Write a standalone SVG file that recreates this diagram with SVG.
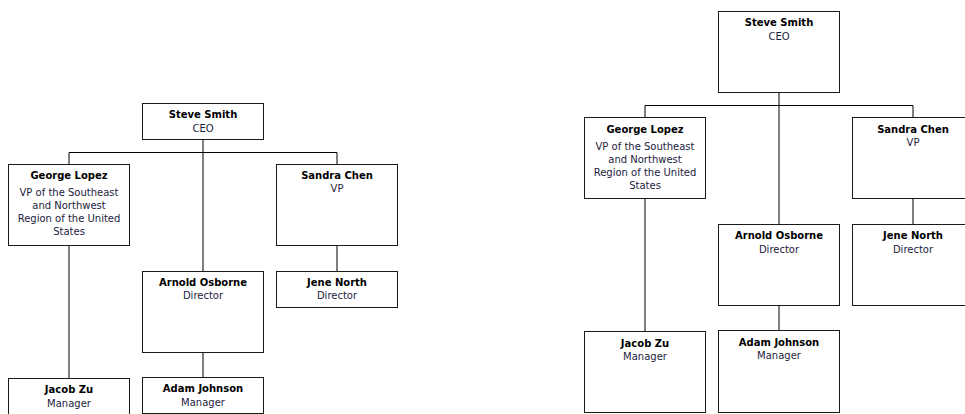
<svg xmlns="http://www.w3.org/2000/svg" width="965" height="414" viewBox="0 0 965 414">
<style>
.box{fill:#fff;stroke:#1a1a1a;stroke-width:1}
.ln{fill:none;stroke:#000;stroke-width:1}
text{font-family:"DejaVu Sans","Verdana",sans-serif;font-size:10px;text-anchor:middle}
.n{font-weight:bold;fill:#000}
.t{fill:#1c1c40}
</style>
<rect width="965" height="414" fill="#fff"/>
<g id="connectors">
<path class="ln" d="M203,139.5V271.5M69,152.5H337M69,152.5V164.5M337,152.5V164.5M337,245.5V271.5M69,245.5V378.5M203,352.5V377.5"/>
<path class="ln" d="M779,92.5V224.5M645,105.5H913M645,105.5V117.5M913,105.5V117.5M913,198.5V224.5M645,198.5V331.5M779,305.5V330.5"/>
</g>
<g id="left-steve"><rect class="box" x="142.5" y="103.5" width="121" height="36"/><text class="n" x="203" y="118">Steve Smith</text><text class="t" x="203" y="131.5">CEO</text></g>
<g id="left-george"><rect class="box" x="8.5" y="164.5" width="121" height="81"/><text class="n" x="69" y="179">George Lopez</text><text class="t" x="69" y="196">VP of the Southeast</text><text class="t" x="69" y="209">and Northwest</text><text class="t" x="69" y="222">Region of the United</text><text class="t" x="69" y="235">States</text></g>
<g id="left-sandra"><rect class="box" x="276.5" y="164.5" width="121" height="81"/><text class="n" x="337" y="179">Sandra Chen</text><text class="t" x="337" y="192">VP</text></g>
<g id="left-arnold"><rect class="box" x="142.5" y="271.5" width="121" height="81"/><text class="n" x="203" y="285.5">Arnold Osborne</text><text class="t" x="203" y="299">Director</text></g>
<g id="left-jene"><rect class="box" x="276.5" y="271.5" width="121" height="36"/><text class="n" x="337" y="285.5">Jene North</text><text class="t" x="337" y="299">Director</text></g>
<g id="left-jacob"><rect class="box" x="8.5" y="378.5" width="121" height="81"/><text class="n" x="69" y="392.5">Jacob Zu</text><text class="t" x="69" y="406.5">Manager</text></g>
<g id="left-adam"><rect class="box" x="142.5" y="377.5" width="121" height="36"/><text class="n" x="203" y="391.5">Adam Johnson</text><text class="t" x="203" y="405.5">Manager</text></g>
<g id="right-steve"><rect class="box" x="718.5" y="11.5" width="121" height="81"/><text class="n" x="779" y="26">Steve Smith</text><text class="t" x="779" y="39.5">CEO</text></g>
<g id="right-george"><rect class="box" x="584.5" y="117.5" width="121" height="81"/><text class="n" x="645" y="132.5">George Lopez</text><text class="t" x="645" y="149.5">VP of the Southeast</text><text class="t" x="645" y="162.5">and Northwest</text><text class="t" x="645" y="175.5">Region of the United</text><text class="t" x="645" y="188.5">States</text></g>
<g id="right-sandra"><rect class="box" x="852.5" y="117.5" width="121" height="81"/><text class="n" x="913" y="132.5">Sandra Chen</text><text class="t" x="913" y="145.5">VP</text></g>
<g id="right-arnold"><rect class="box" x="718.5" y="224.5" width="121" height="81"/><text class="n" x="779" y="239">Arnold Osborne</text><text class="t" x="779" y="252.5">Director</text></g>
<g id="right-jene"><rect class="box" x="852.5" y="224.5" width="121" height="81"/><text class="n" x="913" y="239">Jene North</text><text class="t" x="913" y="252.5">Director</text></g>
<g id="right-jacob"><rect class="box" x="584.5" y="331.5" width="121" height="81"/><text class="n" x="645" y="346.5">Jacob Zu</text><text class="t" x="645" y="360">Manager</text></g>
<g id="right-adam"><rect class="box" x="718.5" y="330.5" width="121" height="82"/><text class="n" x="779" y="345.5">Adam Johnson</text><text class="t" x="779" y="359">Manager</text></g>
</svg>
